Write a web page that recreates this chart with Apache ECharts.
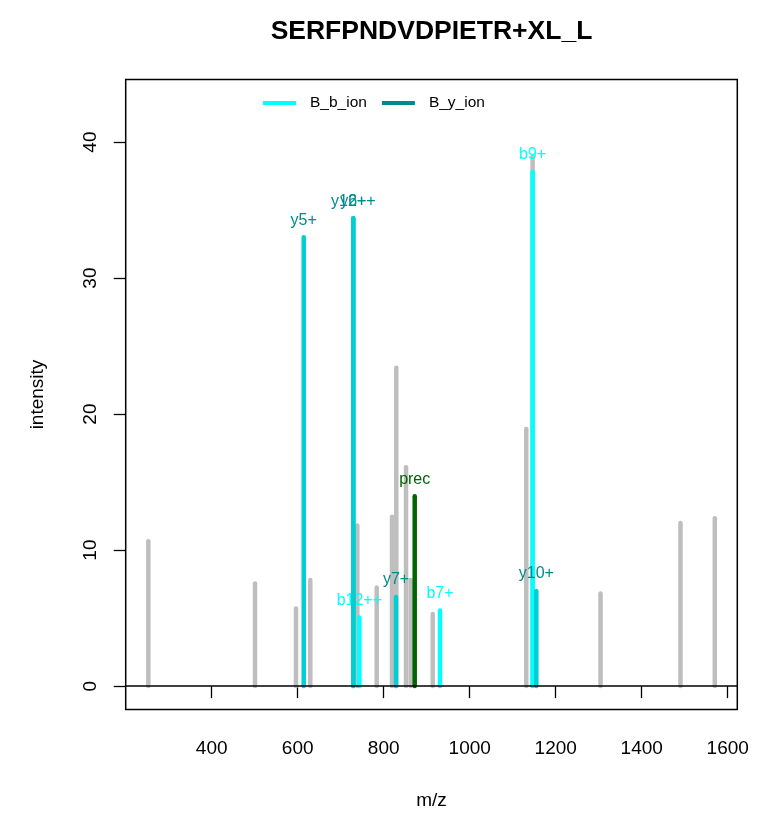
<!DOCTYPE html>
<html>
<head>
<meta charset="utf-8">
<script src="https://cdn.jsdelivr.net/npm/echarts@6/dist/echarts.min.js"></script>
<style>
html,body{margin:0;padding:0;background:#fff;}
#chart{width:757px;height:813px;}
</style>
</head>
<body>
<div id="chart"></div>
<script>
// ---- data ----
const titleText = 'SERFPNDVDPIETR+XL_L';
const xTicks = [400, 600, 800, 1000, 1200, 1400, 1600];
const yTicks = [0, 10, 20, 30, 40];

const grayMz  = [252.6, 500.7, 596.0, 629.3, 738.6, 783.7, 819.3, 829.3, 851.9, 862.8, 914.0, 1131.6, 1146.3, 1304.2, 1490.2, 1570.0];
const grayInt = [10.65, 7.55, 5.7, 7.8, 11.8, 7.25, 12.45, 23.4, 16.1, 7.8, 5.3, 18.9, 38.95, 6.8, 12.0, 12.35];

const bMz     = [743.3, 930.9, 1146.3];
const bInt    = [5.05, 5.55, 37.8];
const bLabels = ['b12++', 'b7+', 'b9+'];

const yMz     = [614.0, 729.3, 729.3, 828.6, 1154.9];
const yInt    = [33.0, 34.4, 34.4, 6.55, 7.0];
const yLabels = ['y5+', 'y6+', 'y12++', 'y7+', 'y10+'];

const precMz     = [872.1];
const precInt    = [13.95];
const precLabels = ['prec'];

// ---- chart ----
const FONT = 'Liberation Sans, Arial, Helvetica, sans-serif';

function toPairs(xs, ys){ return xs.map((x,i)=>[x, ys[i]]); }

function stickSeries(name, xs, ys, labels, color, labelColor, z){
  return {
    type: 'custom',
    name: name,
    z: z,
    data: toPairs(xs, ys),
    encode: {x: 0, y: 1},
    renderItem: function(params, api){
      const x = api.value(0), y = api.value(1);
      const p0 = api.coord([x, 0]);
      const p1 = api.coord([x, y]);
      const children = [{
        type: 'line',
        shape: {x1: p0[0], y1: p0[1], x2: p1[0], y2: p1[1]},
        style: {stroke: color, lineWidth: 4.5, lineCap: 'round'}
      }];
      if (labels) {
        children.push({
          type: 'text',
          x: p1[0], y: p1[1] - 17,
          z2: 10,
          style: {
            text: labels[params.dataIndex],
            fill: labelColor,
            fontSize: 16,
            fontFamily: FONT,
            align: 'center',
            verticalAlign: 'middle'
          }
        });
      }
      return {type: 'group', children: children};
    }
  };
}

const chart = echarts.init(document.getElementById('chart'), null, {renderer: 'canvas'});

const plainNum = v => String(v);

const option = {
  backgroundColor: '#ffffff',
  animation: false,
  title: {
    text: titleText,
    left: 426.5,
    textAlign: 'center',
    top: 13,
    textStyle: {fontFamily: FONT, fontSize: 26.5, fontWeight: 'bold', color: '#000'}
  },
  legend: {
    left: 258,
    top: 90,
    itemWidth: 33,
    itemHeight: 4,
    itemGap: 15,
    icon: 'rect',
    selectedMode: false,
    textStyle: {fontFamily: FONT, fontSize: 15.5, color: '#000', padding: [0, 0, 0, 9]},
    data: [
      {name: 'B_b_ion', itemStyle: {color: '#00FFFF'}},
      {name: 'B_y_ion', itemStyle: {color: '#008B8B'}}
    ]
  },
  grid: {
    left: 125.7, right: 19.7, top: 79.5, bottom: 103.5,
    containLabel: false,
    outerBoundsMode: 'none',
    show: true, borderColor: '#000', borderWidth: 1.5, backgroundColor: 'transparent'
  },
  xAxis: {
    type: 'value',
    min: 200, max: 1622.3,
    name: 'm/z',
    nameLocation: 'middle',
    nameGap: 82,
    nameTextStyle: {fontFamily: FONT, fontSize: 19, color: '#000'},
    axisLine: {show: false},
    splitLine: {show: false},
    axisTick: {show: true, length: 12, inside: false, customValues: xTicks, lineStyle: {color: '#000', width: 1.3}},
    axisLabel: {show: true, margin: 30, customValues: xTicks, formatter: plainNum, fontFamily: FONT, fontSize: 19, color: '#000'}
  },
  yAxis: {
    type: 'value',
    min: -1.72, max: 44.6,
    name: 'intensity',
    nameLocation: 'middle',
    nameGap: 78,
    nameRotate: 90,
    nameTextStyle: {fontFamily: FONT, fontSize: 19, color: '#000'},
    axisLine: {show: false},
    splitLine: {show: false},
    axisTick: {show: true, length: 12, inside: false, customValues: yTicks, lineStyle: {color: '#000', width: 1.3}},
    axisLabel: {show: true, margin: 25, rotate: 90, customValues: yTicks, formatter: plainNum, fontFamily: FONT, fontSize: 19, color: '#000'}
  },
  series: [
    Object.assign(stickSeries('gray', grayMz, grayInt, null, '#BEBEBE', null, 1), {
      markLine: {
        silent: true, symbol: ['none', 'none'], label: {show: false},
        lineStyle: {color: '#000', width: 1.5, type: 'solid'},
        data: [{yAxis: 0}]
      }
    }),
    stickSeries('B_b_ion', bMz, bInt, bLabels, '#00FFFF', '#00FFFF', 2),
    stickSeries('B_y_ion', yMz, yInt, yLabels, '#00CED1', '#008B8B', 3),
    stickSeries('prec', precMz, precInt, precLabels, '#006400', '#006400', 4)
  ]
};
chart.setOption(option);
</script>
</body>
</html>
